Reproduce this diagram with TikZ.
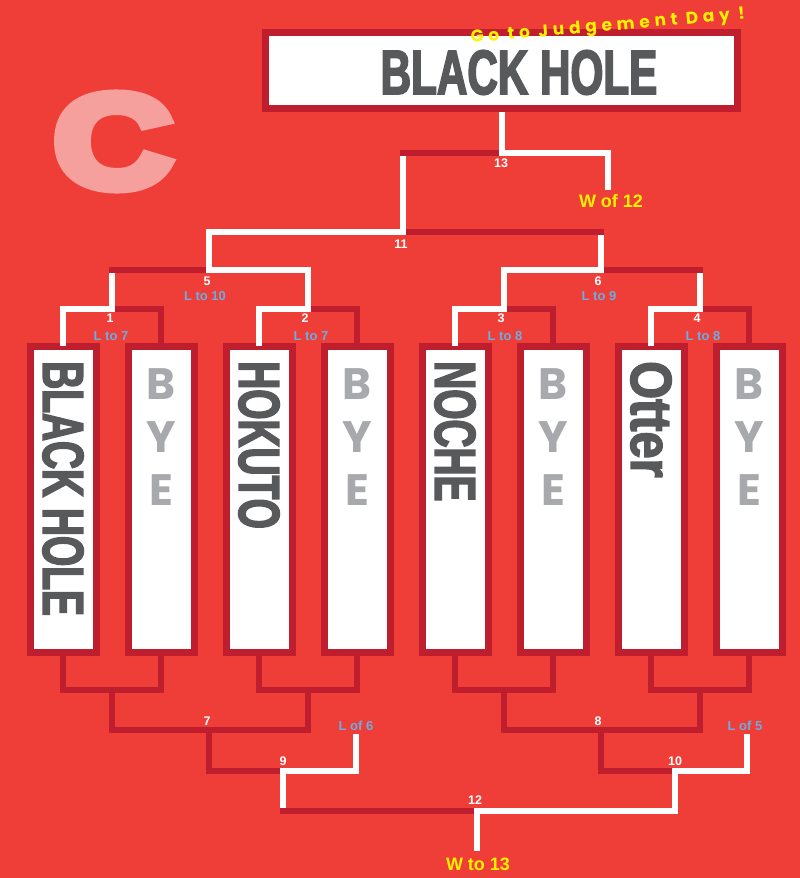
\documentclass[tikz,border=0pt]{standalone}
\usepackage{fontspec}
\usepackage{graphicx}
\setmainfont{Liberation Sans}
\newfontfamily\condfont[FakeStretch=0.67,FakeBold=2.5]{Liberation Sans}
\newfontfamily\widecond[FakeStretch=0.84,FakeBold=2.5]{Liberation Sans}
\newfontfamily\heavyfont[FakeBold=8]{Liberation Sans}
\newfontfamily\roundfont{Poppins}
\newfontfamily\mottofont[LetterSpace=28]{Poppins}
\definecolor{bg}{RGB}{239,62,56}
\definecolor{brk}{RGB}{190,30,45}
\definecolor{ink}{RGB}{88,89,91}
\definecolor{byegrey}{RGB}{167,169,172}
\definecolor{pinkc}{RGB}{245,160,156}
\definecolor{lbl}{RGB}{108,172,224}
\definecolor{gold}{RGB}{255,242,0}
\begin{document}
\begin{tikzpicture}[x=1pt,y=-1pt,
  win/.style={draw=white,line width=6pt,line cap=rect},
  lose/.style={draw=brk,line width=6pt,line cap=rect},
  box/.style={draw=brk,line width=7pt,fill=white,minimum width=66pt,minimum height=306pt,inner sep=0pt},
  player/.style={text=ink,font=\condfont\bfseries\fontsize{58}{58}\selectfont,rotate=-90,anchor=west,inner sep=0pt},
  bye/.style={text=byegrey,font=\roundfont\bfseries\fontsize{44}{53}\selectfont,align=center,anchor=north,inner sep=0pt},
  num/.style={text=white,font=\bfseries\fontsize{12.5}{12.5}\selectfont,inner sep=0pt},
  note/.style={text=lbl,font=\bfseries\fontsize{13}{13}\selectfont,inner sep=0pt},
  goal/.style={text=gold,font=\bfseries\fontsize{18}{18}\selectfont,inner sep=0pt}]
\useasboundingbox (0,0) rectangle (800,878);
\fill[bg] (0,0) rectangle (800,878);
\node[text=pinkc,font=\heavyfont\bfseries\fontsize{132}{132}\selectfont,inner sep=0pt] (pool) at (113,141.5) {\scalebox{1.24}[1]{C}};
\coordinate (m1) at (112,309);
\coordinate (m2) at (308,309);
\coordinate (m3) at (504,309);
\coordinate (m4) at (700,309);
\coordinate (m5) at (209,270);
\coordinate (m6) at (601,270);
\coordinate (m11) at (403,232);
\coordinate (m13) at (502,153);
\coordinate (w12) at (608,187);
\coordinate (d1) at (112,690);
\coordinate (d2) at (308,690);
\coordinate (d3) at (504,690);
\coordinate (d4) at (700,690);
\coordinate (m7) at (209,730);
\coordinate (m8) at (601,730);
\coordinate (m9) at (283,771);
\coordinate (m10) at (675,771);
\coordinate (l6) at (356,737);
\coordinate (l5) at (747,737);
\coordinate (m12) at (477,811);
\coordinate (w13) at (477,848);
\node[box,minimum width=472pt,minimum height=76pt] (top) at (501.5,70.5) {};
\foreach \i in {1,...,8}
  \node[box] (b\i) at ({63+98*(\i-1)},499.5) {};
\foreach \w/\l/\m in {1/2/m1,3/4/m2,5/6/m3,7/8/m4} {
  \draw[win] (b\w.north) |- (\m);
  \draw[lose] (b\l.north) |- (\m);
}
\draw[win] (m1) -- (m1 |- m5);
\draw[lose] (m1 |- m5) -- (m5);
\draw[win] (m2) |- (m5);
\draw[win] (m3) |- (m6);
\draw[win] (m4) -- (m4 |- m6);
\draw[lose] (m4 |- m6) -- (m6);
\draw[win] (m5) |- (m11);
\draw[win] (m6) -- (m6 |- m11);
\draw[lose] (m6 |- m11) -- (m11);
\draw[win] (m11) -- (m11 |- m13);
\draw[lose] (m11 |- m13) -- (m13);
\draw[win] (w12) |- (m13);
\draw[win] (m13) -- (m13 |- top.south);
\foreach \a/\b/\d in {1/2/d1,3/4/d2,5/6/d3,7/8/d4} {
  \draw[lose] (b\a.south) |- (\d);
  \draw[lose] (b\b.south) |- (\d);
}
\draw[lose] (d1) |- (m7);
\draw[lose] (d2) |- (m7);
\draw[lose] (d3) |- (m8);
\draw[lose] (d4) |- (m8);
\draw[lose] (m7) |- (m9);
\draw[win] (l6) |- (m9);
\draw[lose] (m8) |- (m10);
\draw[win] (l5) |- (m10);
\draw[win] (m9) -- (m9 |- m12);
\draw[lose] (m9 |- m12) -- (m12);
\draw[win] (m10) |- (m12);
\draw[win] (m12) -- (w13);
\node[box,minimum width=472pt,minimum height=76pt] (top) at (501.5,70.5) {};
\node[text=ink,font=\condfont\bfseries\fontsize{63}{63}\selectfont,inner sep=0pt] (champ) at (519,72.5) {BLACK HOLE};
\node[text=gold,font=\mottofont\bfseries\fontsize{17}{17}\selectfont,inner sep=0pt,rotate=5] (motto) at (608,27) {Go to Judgement Day !};
\node[player] (p1) at (63,361) {BLACK HOLE};
\node[player] (p3) at (259,361) {HOKUTO};
\node[player] (p5) at (455,361) {NOCHE};
\node[player,font=\widecond\bfseries\fontsize{58}{58}\selectfont] (p7) at (651,361) {Otter};
\foreach \i in {2,4,6,8}
  \node[bye] (y\i) at ({63+98*(\i-1)},368) {B\\Y\\E};
\node[num] (n13) at (501,163.5) {13};
\node[goal] (g12) at (611,201) {W of 12};
\node[num] (n11) at (401,244) {11};
\node[num] (n5) at (207,281) {5};
\node[note] (r5) at (205,296) {L to 10};
\node[num] (n6) at (598,281) {6};
\node[note] (r6) at (599,296) {L to 9};
\node[num] (n1) at (110,318) {1};
\node[note] (r1) at (111,336) {L to 7};
\node[num] (n2) at (305,318) {2};
\node[note] (r2) at (311,336) {L to 7};
\node[num] (n3) at (501,318) {3};
\node[note] (r3) at (505,336) {L to 8};
\node[num] (n4) at (697,318) {4};
\node[note] (r4) at (703,336) {L to 8};
\node[num] (n7) at (207,721) {7};
\node[num] (n8) at (598,721) {8};
\node[note] (r9) at (356,726) {L of 6};
\node[note] (r10) at (745,726) {L of 5};
\node[num] (n9) at (283,761) {9};
\node[num] (n10) at (675,761) {10};
\node[num] (n12) at (475,800) {12};
\node[goal] (g13) at (478,864) {W to 13};
\end{tikzpicture}
\end{document}
